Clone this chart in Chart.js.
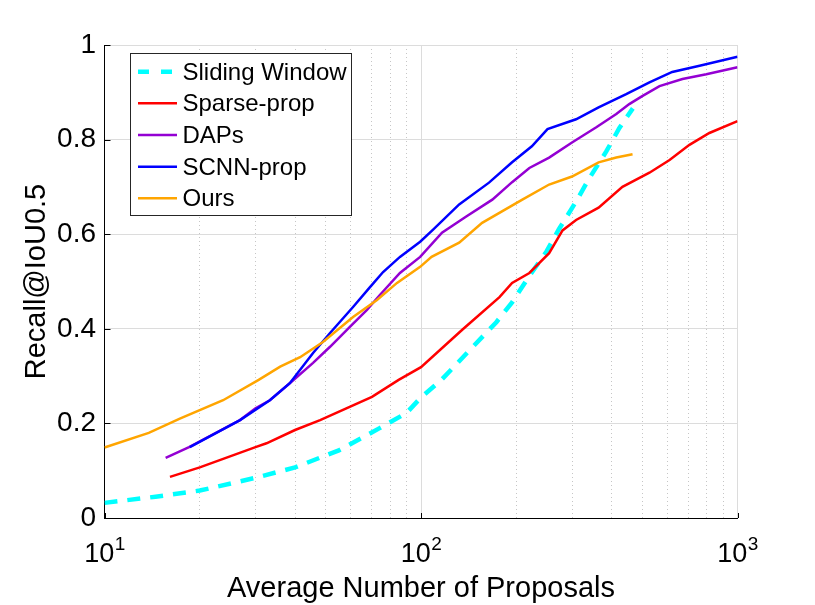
<!DOCTYPE html>
<html><head><meta charset="utf-8">
<style>html,body{margin:0;padding:0;background:#fff;overflow:hidden}canvas{display:block}</style>
<script src="https://cdn.jsdelivr.net/npm/chart.js@4/dist/chart.umd.min.js"></script>
</head><body>
<canvas id="c" width="815" height="605"></canvas>
<script>
// ---- data ----
const seriesNames = ['Sliding Window', 'Sparse-prop', 'DAPs', 'SCNN-prop', 'Ours'];

const slidingX = [10, 14.5, 20, 30, 40, 55, 74, 90, 100, 116, 173, 194, 220, 249, 273, 309, 340, 385, 423, 467];
const slidingY = [0.032, 0.045, 0.058, 0.085, 0.107, 0.143, 0.19, 0.222, 0.255, 0.292, 0.414, 0.456, 0.512, 0.563, 0.611, 0.669, 0.718, 0.775, 0.824, 0.866];

const sparseX = [16.1, 20, 30, 32.5, 40, 48, 70, 85, 100, 135, 177, 194, 220, 254, 280, 309, 364, 433, 527, 610, 705, 815, 1000];
const sparseY = [0.087, 0.107, 0.15, 0.158, 0.186, 0.207, 0.256, 0.292, 0.319, 0.398, 0.467, 0.497, 0.518, 0.56, 0.608, 0.63, 0.656, 0.7, 0.73, 0.757, 0.789, 0.814, 0.839];

const dapsX = [15.6, 18.5, 26.8, 30, 33.3, 38.5, 45.6, 51.6, 59.6, 67.5, 74, 85.8, 99.4, 116.5, 138.6, 168, 194, 220, 254, 300, 358, 414, 455, 500, 567, 670, 797, 1000];
const dapsY = [0.127, 0.15, 0.207, 0.232, 0.249, 0.285, 0.328, 0.362, 0.404, 0.44, 0.471, 0.518, 0.552, 0.603, 0.637, 0.673, 0.71, 0.74, 0.762, 0.794, 0.826, 0.854, 0.875, 0.892, 0.913, 0.928, 0.938, 0.953];

const scnnX = [18.6, 26.8, 33.3, 38.5, 45.6, 51.6, 61, 69, 75.9, 85.8, 99.4, 109, 132, 164, 194, 224, 251, 309, 364, 445, 527, 622, 759, 1000];
const scnnY = [0.15, 0.207, 0.249, 0.285, 0.349, 0.391, 0.446, 0.488, 0.52, 0.552, 0.584, 0.609, 0.663, 0.709, 0.752, 0.786, 0.822, 0.843, 0.868, 0.896, 0.921, 0.943, 0.956, 0.975];

const oursX = [10, 13.8, 17.3, 23.7, 30.7, 35.9, 41.5, 49, 61, 72.6, 84, 99.4, 108, 132, 156, 209, 254, 300, 364, 414, 466];
const oursY = [0.149, 0.18, 0.21, 0.249, 0.292, 0.32, 0.34, 0.372, 0.425, 0.461, 0.497, 0.531, 0.552, 0.582, 0.624, 0.673, 0.705, 0.722, 0.752, 0.762, 0.769];

const xTickValues = [10, 20, 30, 40, 50, 60, 70, 80, 90, 100, 200, 300, 400, 500, 600, 700, 800, 900, 1000];
const xMajorTicks = [10, 100, 1000];
const xTickBase = '10';
const xTickExponents = ['1', '2', '3'];
const yTickValues = [0, 0.2, 0.4, 0.6, 0.8, 1];
const yTickLabels = ['0', '0.2', '0.4', '0.6', '0.8', '1'];
const xTitle = 'Average Number of Proposals';
const yTitle = 'Recall@IoU0.5';

// ---- styles ----
const FONT = 'Liberation Sans, Arial, sans-serif';
const seriesColors = ['#00ffff', '#ff0000', '#9400d3', '#0000ff', '#ffa500'];
const seriesWidths = [4.5, 2.5, 2.5, 2.5, 2.5];
const seriesDashes = [[13, 10], [], [], [], []];

function pts(xs, ys) { return xs.map((x, i) => ({ x: x, y: ys[i] })); }
const seriesData = [pts(slidingX, slidingY), pts(sparseX, sparseY), pts(dapsX, dapsY), pts(scnnX, scnnY), pts(oursX, oursY)];
const drawOrder = [4, 3, 2, 1, 0];

const datasets = seriesNames.map((name, i) => ({
  label: name,
  data: seriesData[i],
  borderColor: seriesColors[i],
  backgroundColor: seriesColors[i],
  borderWidth: seriesWidths[i],
  borderDash: seriesDashes[i],
  pointRadius: 0,
  fill: false,
  tension: 0,
  order: drawOrder[i]
}));

// inward tick marks (MATLAB style)
const innerTicks = {
  id: 'innerTicks',
  afterDatasetsDraw(chart) {
    const { ctx, chartArea, scales } = chart;
    ctx.save();
    ctx.strokeStyle = '#000';
    ctx.lineWidth = 1;
    ctx.beginPath();
    yTickValues.forEach(v => {
      const py = Math.round(scales.y.getPixelForValue(v)) + 0.5;
      ctx.moveTo(chartArea.left, py); ctx.lineTo(chartArea.left + 6, py);
    });
    xMajorTicks.forEach(v => {
      const px = Math.round(scales.x.getPixelForValue(v)) + 0.5;
      ctx.moveTo(px, chartArea.bottom); ctx.lineTo(px, chartArea.bottom - 5);
    });
    ctx.stroke();
    ctx.restore();
  }
};

// power-of-ten tick labels with a raised exponent
const powerLabels = {
  id: 'powerLabels',
  afterDraw(chart) {
    const { ctx, scales } = chart;
    ctx.save();
    ctx.fillStyle = '#000';
    ctx.textBaseline = 'alphabetic';
    ctx.textAlign = 'left';
    xMajorTicks.forEach((v, k) => {
      const px = scales.x.getPixelForValue(v);
      ctx.font = '27px ' + FONT;
      const wb = ctx.measureText(xTickBase).width;
      ctx.font = '19px ' + FONT;
      const we = ctx.measureText(xTickExponents[k]).width;
      const start = px - (wb + we) / 2;
      ctx.font = '27px ' + FONT;
      ctx.fillText(xTickBase, start, 562);
      ctx.font = '19px ' + FONT;
      ctx.fillText(xTickExponents[k], start + wb + 0.5, 550);
    });
    ctx.restore();
  }
};

const boxLegend = {
  id: 'boxLegend',
  afterDraw(chart) {
    const ctx = chart.ctx;
    const L = 130.5, T = 53.5, R = 351.5, B = 215.5;
    ctx.save();
    ctx.fillStyle = '#fff';
    ctx.fillRect(L, T, R - L, B - T);
    ctx.strokeStyle = '#262626';
    ctx.lineWidth = 1;
    ctx.strokeRect(L, T, R - L, B - T);
    const row0 = 71.7, step = 31.65;
    chart.data.datasets.forEach((ds, i) => {
      const y = row0 + i * step;
      ctx.beginPath();
      ctx.strokeStyle = ds.borderColor;
      ctx.lineWidth = ds.borderWidth;
      ctx.setLineDash(ds.borderDash && ds.borderDash.length ? [11, 12] : []);
      ctx.moveTo(138, y); ctx.lineTo(177, y);
      ctx.stroke();
      ctx.setLineDash([]);
      ctx.fillStyle = '#000';
      ctx.font = '24px ' + FONT;
      ctx.textBaseline = 'middle';
      ctx.textAlign = 'left';
      ctx.fillText(ds.label, 182.5, y + 1.5);
    });
    ctx.restore();
  }
};

new Chart(document.getElementById('c'), {
  type: 'line',
  data: { datasets: datasets },
  options: {
    responsive: false,
    animation: false,
    devicePixelRatio: 1,
    layout: { padding: { left: 0, top: 45, right: 77.5, bottom: 0 } },
    plugins: { legend: { display: false }, tooltip: { enabled: false } },
    elements: { point: { radius: 0 }, line: { tension: 0, borderCapStyle: 'butt' } },
    scales: {
      x: {
        type: 'logarithmic',
        min: 10, max: 1000,
        afterBuildTicks: s => { s.ticks = xTickValues.map(v => ({ value: v, major: xMajorTicks.includes(v) })); },
        afterFit: s => { s.height = 87; },
        ticks: {
          autoSkip: false, maxRotation: 0, minRotation: 0, padding: 19,
          color: '#000', font: { family: FONT, size: 27 },
          callback: () => ''
        },
        grid: {
          drawTicks: false, lineWidth: 1,
          color: c => (c.tick && !xMajorTicks.includes(c.tick.value)) ? '#c6c6c6' : '#dcdcdc'
        },
        border: {
          color: '#000', width: 1,
          dash: c => (c.tick && !xMajorTicks.includes(c.tick.value)) ? [1, 3] : []
        },
        title: { display: true, text: xTitle, color: '#000', font: { family: FONT, size: 29, lineHeight: 1.1 }, padding: { top: 0, bottom: 0 } }
      },
      y: {
        min: 0, max: 1,
        afterBuildTicks: s => { s.ticks = yTickValues.map(v => ({ value: v })); },
        afterFit: s => { s.width = 104.5; },
        ticks: {
          padding: 8.5, color: '#000', font: { family: FONT, size: 28 },
          callback: (v, i) => yTickLabels[i]
        },
        grid: { drawTicks: false, lineWidth: 1, color: '#dcdcdc' },
        border: { color: '#000', width: 1 },
        title: { display: true, text: yTitle, color: '#000', font: { family: FONT, size: 29, lineHeight: 1.2 }, padding: { top: 20, bottom: 0 } }
      }
    }
  },
  plugins: [innerTicks, powerLabels, boxLegend]
});
</script>
</body></html>
